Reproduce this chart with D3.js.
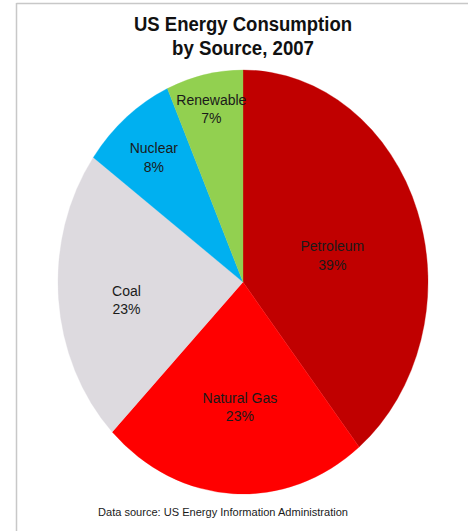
<!DOCTYPE html>
<html>
<head>
<meta charset="utf-8">
<script src="https://cdn.jsdelivr.net/npm/d3@7"></script>
<style>
  html, body { margin: 0; padding: 0; background: #fff; }
  svg { display: block; }
  text { font-family: "Liberation Sans", Arial, sans-serif; }
</style>
</head>
<body>
<svg id="chart" width="468" height="531"></svg>
<script>
// ---- data ----
const categories = ["Petroleum", "Natural Gas", "Coal", "Nuclear", "Renewable"];
const shares = [39.2, 23.3, 22.5, 8.3, 6.7];
const percentLabels = ["39%", "23%", "23%", "8%", "7%"];
const titleLines = ["US Energy Consumption", "by Source, 2007"];
const sourceNote = "Data source: US Energy Information Administration";

// ---- style / layout ----
const colors = ["#C00000", "#FF0000", "#DDDADF", "#00B0F0", "#92D050"];
const labelRadiusFrac = [0.50, 0.585, 0.635, 0.765, 0.84];
const labelAngleNudgeDeg = [4.4, -1.4, -2.7, 0, 0.3];
const titleWidths = [218, 142];

const W = 468, H = 531;
const cx = 243, cy = 282, rx = 185, ry = 212;

const svg = d3.select("#chart");

// frame lines (top and left)
svg.append("line").attr("x1", 16.5).attr("x2", W).attr("y1", 3.5).attr("y2", 3.5)
  .attr("stroke", "#c8c8c8").attr("stroke-width", 1.5);
svg.append("line").attr("x1", 16.5).attr("x2", 16.5).attr("y1", 3).attr("y2", H)
  .attr("stroke", "#c8c8c8").attr("stroke-width", 1.5);

// title
svg.selectAll("text.title").data(titleLines).join("text")
  .attr("class", "title")
  .attr("x", 243).attr("y", (d, i) => 31 + i * 24)
  .attr("text-anchor", "middle")
  .attr("font-size", 20).attr("font-weight", "bold").attr("fill", "#111")
  .attr("textLength", (d, i) => titleWidths[i]).attr("lengthAdjust", "spacingAndGlyphs")
  .text(d => d);

// pie
const data = categories.map((c, i) => ({ name: c, value: shares[i], pct: percentLabels[i], color: colors[i], lr: labelRadiusFrac[i], nudge: labelAngleNudgeDeg[i] }));
const pie = d3.pie().sort(null).value(d => d.value);
const arcs = pie(data);
const arc = d3.arc().innerRadius(0).outerRadius(rx);

const g = svg.append("g").attr("transform", `translate(${cx},${cy})`);
g.append("g").attr("transform", `scale(1,${ry / rx})`)
  .selectAll("path").data(arcs).join("path")
  .attr("d", arc)
  .attr("fill", d => d.data.color)
  .attr("stroke", d => d.data.color)
  .attr("stroke-width", 0.3);

// labels
const lbl = g.selectAll("g.lbl").data(arcs).join("g").attr("class", "lbl")
  .attr("transform", d => {
    const a = (d.startAngle + d.endAngle) / 2 + d.data.nudge * Math.PI / 180;
    const x = Math.sin(a) * rx * d.data.lr;
    const y = -Math.cos(a) * ry * d.data.lr;
    return `translate(${x},${y})`;
  });
lbl.append("text").attr("text-anchor", "middle").attr("y", -3)
  .attr("font-size", 14).attr("fill", "#1a1a1a").text(d => d.data.name);
lbl.append("text").attr("text-anchor", "middle").attr("y", 15.5)
  .attr("font-size", 14).attr("fill", "#1a1a1a").text(d => d.data.pct);

// source note
svg.append("text")
  .attr("x", 98).attr("y", 516)
  .attr("font-size", 11).attr("fill", "#1a1a1a")
  .attr("textLength", 250).attr("lengthAdjust", "spacingAndGlyphs")
  .text(sourceNote);
</script>
</body>
</html>
